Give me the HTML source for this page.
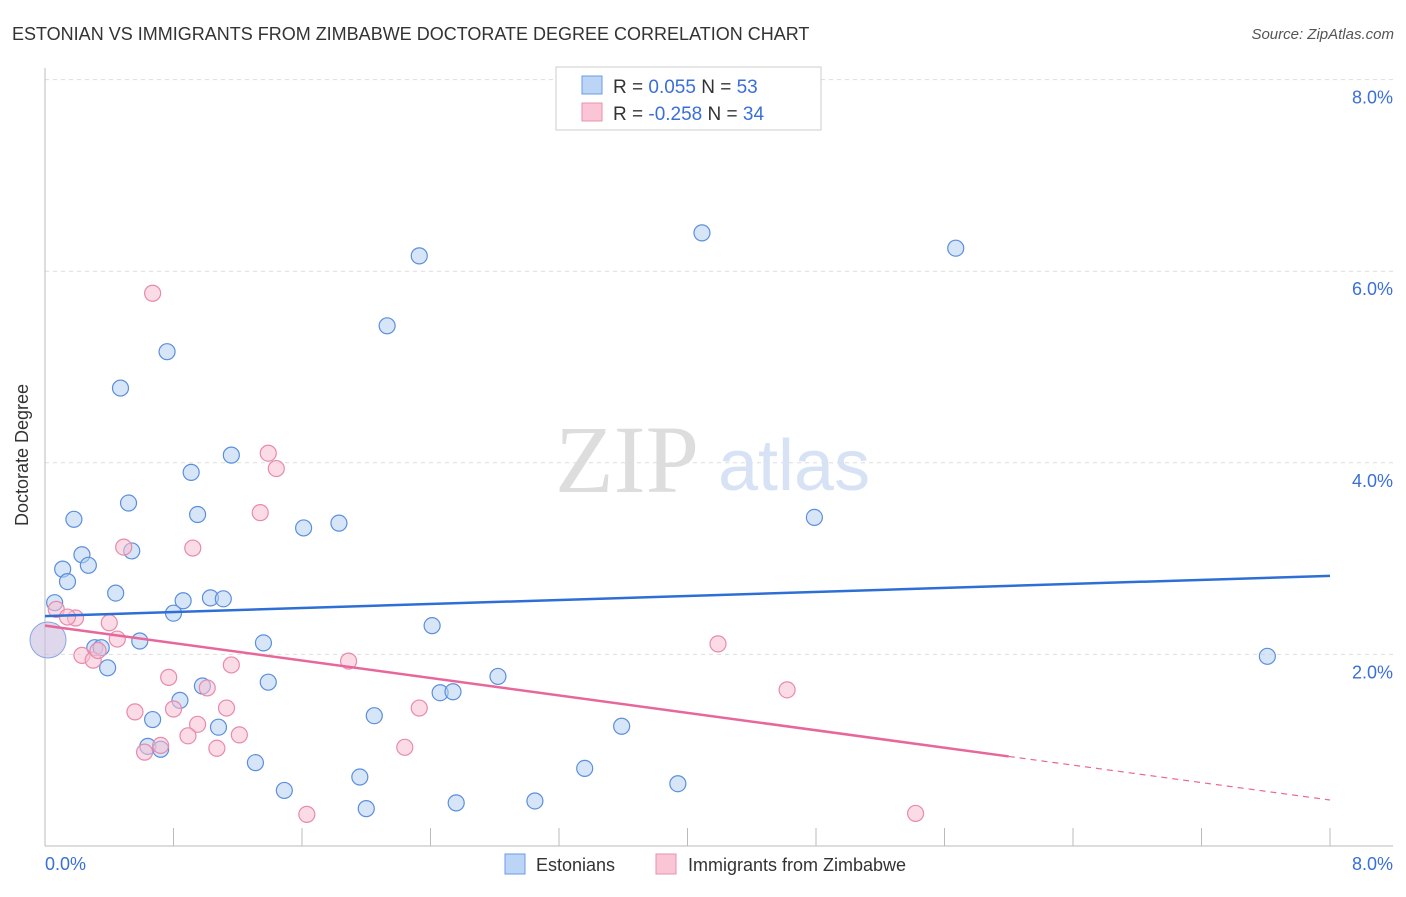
<!DOCTYPE html>
<html><head><meta charset="utf-8"><style>
body{margin:0;background:#fff;font-family:"Liberation Sans",sans-serif}
</style></head><body>
<svg width="1406" height="892" xmlns="http://www.w3.org/2000/svg">
<text x="12" y="40" font-size="18" fill="#333">ESTONIAN VS IMMIGRANTS FROM ZIMBABWE DOCTORATE DEGREE CORRELATION CHART</text>
<text x="1394" y="39" font-size="15" fill="#555" font-style="italic" text-anchor="end">Source: ZipAtlas.com</text>
<g id="grid"></g>
<text x="555" y="492" font-size="96" fill="#ddd" font-family="Liberation Serif,serif">ZIP</text>
<text x="718" y="490" font-size="72" fill="#d7e3f5">atlas</text>
<g id="pts"></g>
<g id="lines"></g>
<text x="28" y="455" font-size="18" fill="#333" text-anchor="middle" transform="rotate(-90 28 455)">Doctorate Degree</text>
<text x="45" y="870" font-size="18" fill="#3a6fd8">0.0%</text>
<text x="1393" y="870" font-size="18" fill="#3a6fd8" text-anchor="end">8.0%</text>
<g>
<rect x="556" y="67" width="265" height="63" fill="#fff" stroke="#ccc"/>
<rect x="582" y="76" width="20" height="18" fill="#bcd4f6" stroke="#6a9be0"/>
<rect x="582" y="103" width="20" height="18" fill="#fac6d6" stroke="#e890ae"/>
<text x="613" y="93" font-size="19" fill="#333">R = <tspan fill="#3a6fd8">  0.055</tspan>   N = <tspan fill="#3a6fd8">53</tspan></text>
<text x="613" y="120" font-size="19" fill="#333">R = <tspan fill="#3a6fd8">-0.258</tspan>   N = <tspan fill="#3a6fd8">34</tspan></text>
</g>
<g>
<rect x="505" y="854" width="20" height="20" fill="#bcd4f6" stroke="#6a9be0"/>
<text x="536" y="871" font-size="18" fill="#333">Estonians</text>
<rect x="656" y="854" width="20" height="20" fill="#fac6d6" stroke="#e890ae"/>
<text x="688" y="871" font-size="18" fill="#333">Immigrants from Zimbabwe</text>
</g>
</svg>
<script>
const yTicks=[2,4,6,8];
const xTicks=[0,0.8,1.6,2.4,3.2,4,4.8,5.6,6.4,7.2,8];
const bluePx=[[420,256],[702,233],[956,248],[387,326],[167,352],[121,388],[232,455],[191,472],[128,503],[74,519],[198,515],[303,528],[339,523],[815,517],[82,555],[132,551],[88,565],[62,569],[68,582],[115,593],[183,601],[210,598],[224,599],[173,613],[55,603],[140,641],[264,643],[432,626],[95,648],[102,648],[108,668],[269,682],[498,676],[203,686],[180,700],[440,693],[453,692],[152,720],[375,716],[218,727],[622,726],[148,746],[161,749],[255,763],[360,777],[584,768],[678,784],[285,790],[367,809],[457,803],[535,801],[1267,656]];
const blueX=bluePx.map(p=>+((p[0]-45)/1285*8).toFixed(2));
const blueY=bluePx.map(p=>+((846-p[1])/95.8).toFixed(2));
const pinkPx=[[152,293],[268,453],[276,469],[261,513],[123,547],[192,548],[57,609],[75,618],[67,617],[109,623],[117,639],[82,655],[93,660],[232,665],[349,661],[718,644],[169,677],[208,688],[787,690],[135,712],[173,709],[226,708],[420,708],[198,724],[188,736],[239,735],[217,748],[144,752],[160,745],[405,747],[307,814],[915,813],[98,651]];
const pinkX=pinkPx.map(p=>+((p[0]-45)/1285*8).toFixed(2));
const pinkY=pinkPx.map(p=>+((846-p[1])/95.8).toFixed(2));
const blueTrend=[2.40,2.82];
const pinkTrend=[2.30,0.48];
const pinkSolidEnd=6.0;
const X=v=>45+v/8*1285, Y=v=>846-v*95.8;
const NS="http://www.w3.org/2000/svg";
function mk(t,a,p){const e=document.createElementNS(NS,t);for(const k in a)e.setAttribute(k,a[k]);p.appendChild(e);return e;}
const grid=document.getElementById('grid');
yTicks.forEach(t=>{
 const l=mk('line',{x1:45,x2:1393,y1:Y(t),y2:Y(t),stroke:'#ddd','stroke-dasharray':'4,4'},grid);
 
 
 const tx=mk('text',{x:1393,y:Y(t)+24,'font-size':18,fill:'#3a6fd8','text-anchor':'end'},grid);
 tx.textContent=t.toFixed(1)+'%';
 
 
});
mk('line',{x1:45,x2:45,y1:68,y2:846,stroke:'#bbb'},grid);
mk('line',{x1:45,x2:1393,y1:846,y2:846,stroke:'#bbb'},grid);
xTicks.forEach(t=>{
 const l=mk('line',{x1:X(t),x2:X(t),y1:828,y2:846,stroke:'#bbb'},grid);
 
 
});
const pts=document.getElementById('pts');
function dots(xs,ys,fill,stroke,name){xs.forEach((x,i)=>{
 const c=mk('circle',{cx:X(x),cy:Y(ys[i]),r:8,fill:fill,'fill-opacity':0.55,stroke:stroke,'stroke-width':1.2},pts);
 
 
});}
dots(blueX,blueY,'#b7d0f2','#5b8fdc','estonian-point');
dots(pinkX,pinkY,'#f8c0d2','#e88aab','zimbabwe-point');
const big=mk('circle',{cx:48,cy:640,r:18,fill:'#c9bde0','fill-opacity':0.6,stroke:'#8aa6e0'},pts);


const ln=document.getElementById('lines');
const bl=mk('line',{x1:X(0),y1:Y(blueTrend[0]),x2:X(8),y2:Y(blueTrend[1]),stroke:'#2e6fd6','stroke-width':2.5},ln);


const pm=pinkTrend[0]+(pinkTrend[1]-pinkTrend[0])*pinkSolidEnd/8;
const pl=mk('line',{x1:X(0),y1:Y(pinkTrend[0]),x2:X(pinkSolidEnd),y2:Y(pm),stroke:'#e8679a','stroke-width':2.5},ln);


const pd=mk('line',{x1:X(pinkSolidEnd),y1:Y(pm),x2:X(8),y2:Y(pinkTrend[1]),stroke:'#e8679a','stroke-width':1.2,'stroke-dasharray':'6,5'},ln);


</script>
</body></html>
